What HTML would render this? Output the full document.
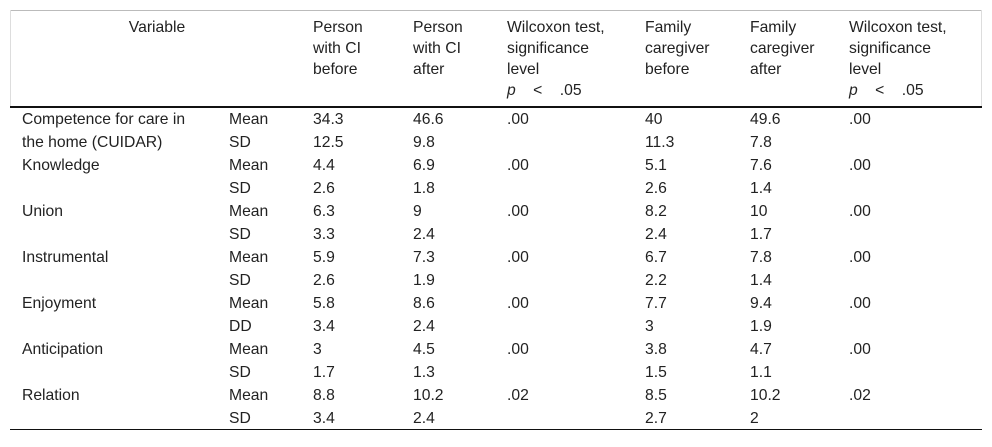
<!DOCTYPE html>
<html><head><meta charset="utf-8"><style>
body{margin:0;width:992px;height:447px;background:#fff;font-family:"Liberation Sans",Arial,sans-serif;font-size:15.7px;color:#222;position:relative;overflow:hidden}
.t{position:absolute;white-space:nowrap;line-height:21px}
.hl{position:absolute;left:10px;width:972px}
</style></head><body>
<div>
<div class="hl" style="top:10px;height:1px;background:#bbb"></div>
<div style="position:absolute;left:10px;top:10px;width:1px;height:97px;background:#ddd"></div>
<div style="position:absolute;left:981px;top:10px;width:1px;height:97px;background:#ddd"></div>
<div class="hl" style="top:106px;height:2px;background:#111"></div>
<div class="hl" style="top:429px;height:1px;background:#111"></div>
<div id="hdr"></div>
<div id="body"></div>
</div>
<script>
const headers=[["Variable"],[""],["Person","with CI","before"],["Person","with CI","after"],["Wilcoxon test,","significance","level","p&nbsp;&nbsp;&nbsp;&nbsp;&lt;&nbsp;&nbsp;&nbsp;&nbsp;.05"],["Family","caregiver","before"],["Family","caregiver","after"],["Wilcoxon test,","significance","level","p&nbsp;&nbsp;&nbsp;&nbsp;&lt;&nbsp;&nbsp;&nbsp;&nbsp;.05"]];
const colX=[22,229,313,413,507,645,750,849];
const rows=[
["Competence for care in","Mean","34.3","46.6",".00","40","49.6",".00"],
["the home (CUIDAR)","SD","12.5","9.8","","11.3","7.8",""],
["Knowledge","Mean","4.4","6.9",".00","5.1","7.6",".00"],
["","SD","2.6","1.8","","2.6","1.4",""],
["Union","Mean","6.3","9",".00","8.2","10",".00"],
["","SD","3.3","2.4","","2.4","1.7",""],
["Instrumental","Mean","5.9","7.3",".00","6.7","7.8",".00"],
["","SD","2.6","1.9","","2.2","1.4",""],
["Enjoyment","Mean","5.8","8.6",".00","7.7","9.4",".00"],
["","DD","3.4","2.4","","3","1.9",""],
["Anticipation","Mean","3","4.5",".00","3.8","4.7",".00"],
["","SD","1.7","1.3","","1.5","1.1",""],
["Relation","Mean","8.8","10.2",".02","8.5","10.2",".02"],
["","SD","3.4","2.4","","2.7","2",""]];
const hdr=document.getElementById('hdr');
headers.forEach((h,i)=>{
 if(!h[0])return;
 const d=document.createElement('div');d.className='t';
 
 
 d.style.top='17px';
 if(i===0){d.style.left='10px';d.style.width='294px';d.style.textAlign='center';}
 else d.style.left=colX[i]+'px';
 d.innerHTML=h.map(s=>s.startsWith('p&')?'<i>p</i>'+s.slice(1):s).join('<br>');
 hdr.appendChild(d);
});
const body=document.getElementById('body');
rows.forEach((r,ri)=>{
 r.forEach((c,ci)=>{
  if(!c)return;
  const d=document.createElement('div');d.className='t';
  
  
  d.style.left=colX[ci]+'px';
  d.style.top=(109+ri*23)+'px';
  d.textContent=c;body.appendChild(d);
 });
});
</script>
</body></html>
